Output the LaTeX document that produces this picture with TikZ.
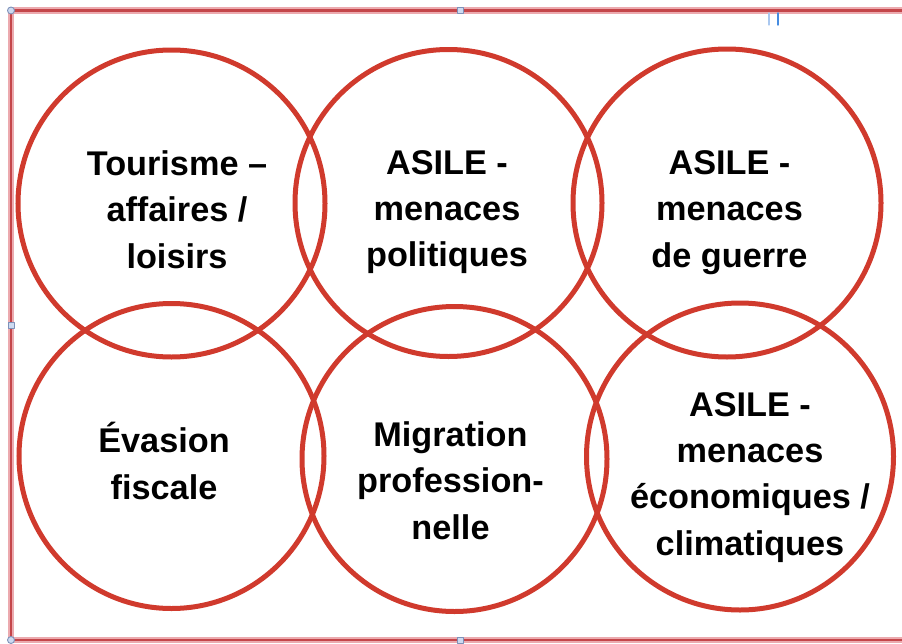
\documentclass[tikz,border=0pt]{standalone}
\usepackage{fontspec}
\setmainfont{Liberation Sans}
\usepackage{tikz}
\usetikzlibrary{positioning}
\definecolor{CercleRouge}{RGB}{208,58,45}
\definecolor{CadreRouge}{RGB}{196,70,74}
\definecolor{CadreRose}{RGB}{236,170,175}
\definecolor{PoigneeBleu}{RGB}{205,218,240}
\definecolor{PoigneeBord}{RGB}{125,145,185}
\definecolor{RepereClair}{RGB}{170,200,240}
\definecolor{RepereFonce}{RGB}{70,140,225}
\tikzset{motif/.style={font=\bfseries\fontsize{19.5pt}{26.2pt}\selectfont,align=center,anchor=base,inner sep=0pt}}
\begin{document}
\begin{tikzpicture}[line cap=round,line join=round,x=1.0cm,y=1.0cm]
\useasboundingbox (0,0) rectangle (18.04,12.86);
%cadre
\draw [line width=3.5pt,color=CadreRose] (18.5,12.65) -- (0.22,12.65) -- (0.22,0.06) -- (18.5,0.06);
\draw [line width=1.3pt,color=CadreRouge] (18.5,12.65) -- (0.22,12.65) -- (0.22,0.06) -- (18.5,0.06);
\draw [line width=0.6pt,color=RepereClair] (15.38,12.6) -- (15.38,12.36);
\draw [line width=0.8pt,color=RepereFonce] (15.56,12.6) -- (15.56,12.36);
%poignees
\foreach \px/\py in {0.22/12.65,0.22/0.06}
\filldraw [fill=PoigneeBleu,draw=PoigneeBord,line width=0.5pt] (\px,\py) circle (0.07);
\foreach \px/\py in {9.2/12.65,0.22/6.36,9.2/0.06}
\filldraw [fill=PoigneeBleu,draw=PoigneeBord,line width=0.5pt] (\px-0.06,\py-0.06) rectangle (\px+0.06,\py+0.06);
%cercles
\foreach \cx/\cy/\r in {3.43/8.79/3.07,8.97/8.80/3.07,14.54/8.80/3.08,3.43/3.74/3.05,9.09/3.68/3.05,14.80/3.73/3.07}
\draw [line width=0.1cm,color=CercleRouge] (\cx,\cy) circle (\r);
%textes (base = derniere ligne)
\node [motif] (tourisme) at (3.54,7.50) {Tourisme --\\affaires /\\loisirs};
\node [motif] (asilePol) at (8.94,7.53) {ASILE -\\menaces\\politiques};
\node [motif] (asileGuerre) at (14.59,7.52) {ASILE -\\menaces\\de guerre};
\node [motif] (evasion) at (3.28,2.88) {Évasion\\fiscale};
\node [motif] (migration) at (9.01,2.08) {Migration\\profession-\\nelle};
\node [motif] (asileEco) at (15.0,1.76) {ASILE -\\menaces\\économiques /\\climatiques};
\end{tikzpicture}
\end{document}
